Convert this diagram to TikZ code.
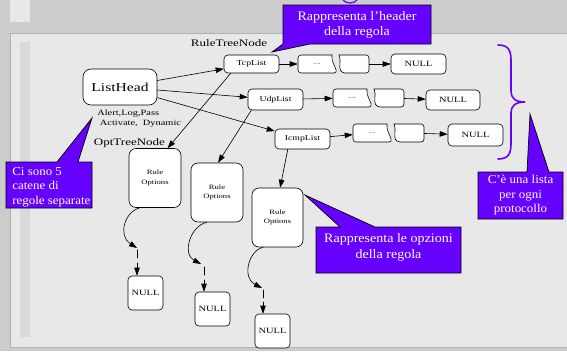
\documentclass[tikz,border=0pt]{standalone}
\usepackage{fontspec}
\setmainfont{Liberation Serif}
\newfontfamily\dgfont[FakeStretch=1.3]{Liberation Serif}
\newfontfamily\cofont[FakeStretch=1.08]{Liberation Serif}
\usetikzlibrary{arrows.meta}
\definecolor{callout}{RGB}{102,0,255}
\definecolor{marble}{RGB}{204,204,204}
\definecolor{slide}{RGB}{232,232,232}
% left piece of a cut list cell: name, x, y
\newcommand\piecel[3]{%
 \draw[fill=white,rounded corners=3pt] ({#2+15},{#3-9}) -- ({#2-19},{#3-9}) -- ({#2-19},{#3+9}) -- ({#2+20},{#3+9})
 [sharp corners] .. controls ({#2+18},{#3+2}) and ({#2+14},{#3-3}) .. ({#2+15},{#3-9}) -- cycle;
 \node[cell,minimum width=38pt] (#1) at (#2,#3) {....};}
% right piece of a cut list cell: name, x, y
\newcommand\piecer[3]{%
 \draw[fill=white,rounded corners=3pt] ({#2-14.5},{#3-9}) -- ({#2+15.5},{#3-9}) -- ({#2+15.5},{#3+9}) -- ({#2-11.5},{#3+9})
 [sharp corners] .. controls ({#2-15},{#3+3}) and ({#2-12},{#3-4}) .. ({#2-14.5},{#3-9}) -- cycle;
 \node[cell,minimum width=31pt] (#1) at (#2,#3) {};}
\begin{document}
\begin{tikzpicture}[x=1pt,y=-1pt,line cap=round,semithick,>={Triangle[length=8pt,width=5.5pt]},
 box/.style={draw,fill=white,rounded corners=4pt,inner sep=0pt},
 lst/.style={box,minimum width=55pt,font=\dgfont\fontsize{7.5}{9}\selectfont},
 nul/.style={box,font=\dgfont\fontsize{8}{9}\selectfont},
 opt/.style={box,rounded corners=7pt,minimum width=52pt,minimum height=59pt,align=center,font=\dgfont\fontsize{6.6}{9.5}\selectfont},
 cell/.style={inner sep=0pt,minimum height=18pt,font=\dgfont\fontsize{5.5}{6}\selectfont},
 tag/.style={inner sep=0pt,font=\dgfont\fontsize{10}{12}\selectfont},
 bubble/.style={fill=callout,draw=black,line width=0.7pt,line join=miter},
 note/.style={text=white,align=center,inner sep=0pt,font=\cofont\fontsize{12}{14.5}\selectfont}]
 \useasboundingbox (0,0) rectangle (567,351);
 % slide background
 \fill[marble] (0,0) rectangle (567,351);
 \fill[slide] (10,0) rectangle (30,22);
 \filldraw[fill=slide,draw=gray!60] (10,33) rectangle (568,347);
 \fill[marble!75!white] (20,42) rectangle (30,337);
 \draw[callout,line width=1.2pt] (343,0) .. controls (346,4) and (354,4) .. (357,0);

 % lists
 \node[box,rounded corners=8pt,minimum width=74pt,minimum height=36pt,font=\dgfont\fontsize{12}{14}\selectfont] (head) at (120,87) {ListHead};
 \node[lst,minimum height=18pt] (tcp) at (251.5,64) {TcpList};
 \node[lst,minimum height=21pt] (udp) at (275.5,99.5) {UdpList};
 \node[lst,minimum height=20pt] (icmp) at (302.5,139) {IcmpList};
 \piecel{tcpa}{317}{64} \piecer{tcpb}{353.5}{64}
 \node[nul,minimum width=55pt,minimum height=20pt] (tcpnull) at (418.5,64) {NULL};
 \piecel{udpa}{352}{98} \piecer{udpb}{388.5}{98}
 \node[nul,minimum width=54pt,minimum height=20pt] (udpnull) at (453,100) {NULL};
 \piecel{icmpa}{372}{133} \piecer{icmpb}{408.5}{133}
 \node[nul,minimum width=55pt,minimum height=22pt] (icmpnull) at (475.5,135) {NULL};

 % rule options
 \node[opt] (opta) at (155,178) {Rule\\Options};
 \node[opt] (optb) at (217,192.5) {Rule\\Options};
 \node[opt,minimum width=51pt] (optc) at (277.5,217.5) {Rule\\Options};
 \node[nul,minimum width=35pt,minimum height=34pt] (nulla) at (145.5,293) {NULL};
 \node[nul,minimum width=35pt,minimum height=34pt] (nullb) at (212.5,309) {NULL};
 \node[nul,minimum width=35pt,minimum height=34pt] (nullc) at (272.5,331) {NULL};

 \node[tag] (rtn) at (229,43) {RuleTreeNode};
 \node[tag] (otn) at (129.5,143) {OptTreeNode};
 \node[align=left,anchor=west,inner sep=0pt,font=\dgfont\fontsize{8}{10}\selectfont] (flags) at (97,119) {Alert,Log,Pass\\\ Activate,\ \ Dynamic};

 \draw[->] (head) -- (tcp);
 \draw[->] (head) -- (udp);
 \draw[->] (head) -- (icmp);
 \draw[->] (tcp) -- (tcpa);
 \draw[->] (tcpb) -- (tcpnull);
 \draw[->] (udp) -- (udpa);
 \draw[->] (udpb) -- (udpnull);
 \draw[->] (icmp) -- (icmpa);
 \draw[->] (icmpb) -- (icmpnull);
 \draw[->] (tcp.204) -- (opta.67);
 \draw[->] (udp.204) -- (optb.88);
 \draw[->] (icmp.215) -- (optc.85);

 % chains of options, cut short
 \coordinate (ea) at (137,248); \coordinate (ua) at (137,250); \coordinate (va) at (137,258); \coordinate (sa) at (137,263);
 \coordinate (eb) at (201,264); \coordinate (ub) at (204,267); \coordinate (vb) at (204,275); \coordinate (sb) at (204,280);
 \coordinate (ec) at (262,288); \coordinate (uc) at (263,290); \coordinate (vc) at (263,298); \coordinate (sc) at (263,302);
 \draw[->] (opta.243) .. controls (124,212) and (118,236) .. (ea);
 \draw[->] (optb.251) .. controls (190,226) and (182,254) .. (eb);
 \draw[->] (optc.244) .. controls (248,251) and (242,278) .. (ec);
 \draw (ua) -- (va) (ub) -- (vb) (uc) -- (vc);
 \draw[->] (sa) -- (sa |- nulla.north);
 \draw[->] (sb) -- (sb |- nullb.north);
 \draw[->] (sc) -- (sc |- nullc.north);

 % brace
 \draw[callout,line width=1.6pt] (498,45) .. controls (508,45) and (511,50) .. (511,60) -- (511,91)
 .. controls (511,98) and (515,102) .. (525,102) .. controls (515,102) and (511,106) .. (511,113)
 -- (511,144) .. controls (511,154) and (508,159) .. (498,159);

 % callouts
 \filldraw[bubble] (283,5) -- (431,5) -- (431,44) -- (310,44) -- (272,52) -- (283,44) -- cycle;
 \node[note,font=\cofont\fontsize{13}{15}\selectfont] (header) at (357,24.5) {Rappresenta l’header\\della regola};
 \filldraw[bubble] (6,162) -- (57,162) -- (92,118) -- (78,162) -- (92,162) -- (92,208) -- (6,208) -- cycle;
 \node[note,align=left,anchor=west] (chains) at (12,187) {Ci sono 5\\catene di\\regole separate};
 \filldraw[bubble] (478,172) -- (527,172) -- (530,114) -- (549,172) -- (563,172) -- (563,219) -- (478,219) -- cycle;
 \node[note] (perproto) at (520.5,195.5) {C’è una lista\\per ogni\\protocollo};
 \filldraw[bubble] (316,227) -- (340,227) -- (305,195) -- (375,227) -- (461,227) -- (461,273) -- (316,273) -- cycle;
 \node[note,font=\cofont\fontsize{13}{16.5}\selectfont] (options) at (388.5,247.5) {Rappresenta le opzioni\\della regola};
\end{tikzpicture}
\end{document}
